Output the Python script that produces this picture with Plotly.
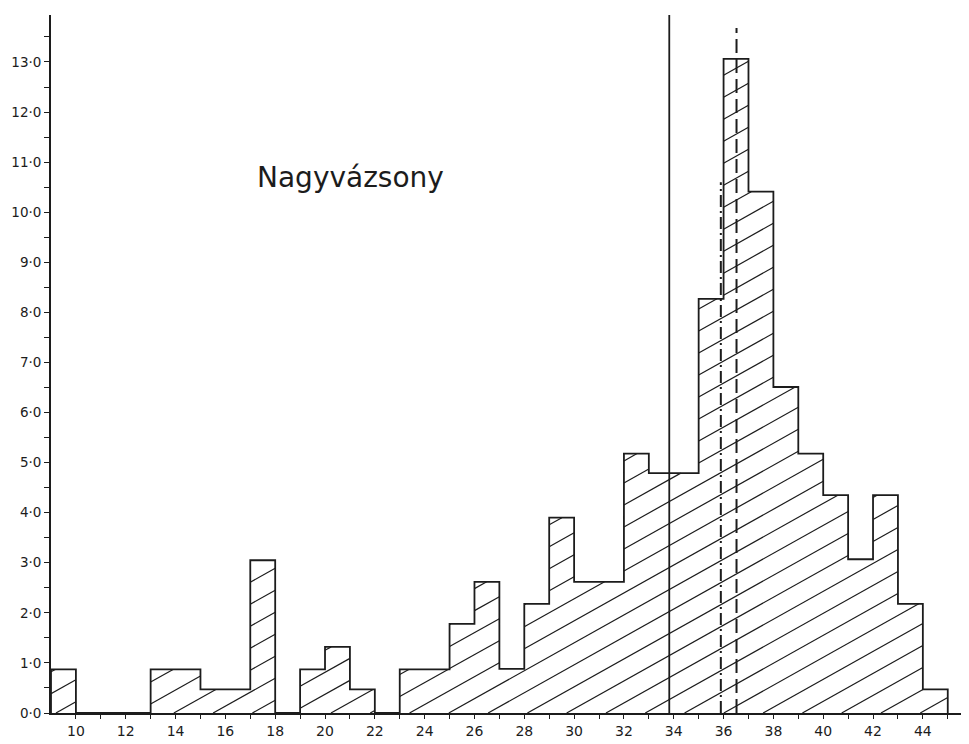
import plotly.graph_objects as go

# ---- data ----
bin_left = list(range(9, 45))            # bins of width 1: 9-10 ... 44-45
bin_width = 1
values = [0.87, 0, 0, 0, 0.87, 0.87, 0.47, 0.47, 3.05, 0,
          0.87, 1.32, 0.47, 0, 0.87, 0.87, 1.78, 2.62, 0.88, 2.18,
          3.90, 2.62, 2.62, 5.18, 4.79, 4.79, 8.27, 13.06, 10.41, 6.51,
          5.18, 4.35, 3.07, 4.35, 2.18, 0.47]
solid_line_x = 33.82
solid_line_top = 13.94
dashdot_line_x = 35.89
dashdot_line_top = 10.6
dashed_line_x = 36.52
dashed_line_top = 13.68
title_text = "Nagyvázsony"
x_tick_vals = list(range(10, 46))
x_tick_text = [str(v) if v % 2 == 0 else "" for v in x_tick_vals]
y_tick_vals = [i * 0.5 for i in range(0, 28)]
y_tick_text = [f"{int(v)}·0" if v == int(v) else "" for v in y_tick_vals]

# ---- layout geometry (page body adds an 8px offset) ----
W, H = 961, 736
ml, mr, mt, mb = 43, 0, 7, 31
x_range = [9, 9 + (W - ml - mr) / 24.91]
y_range = [0, (H - mt - mb) / 50.08]
px_per_x = (W - ml - mr) / (x_range[1] - x_range[0])
px_per_y = (H - mt - mb) / (y_range[1] - y_range[0])

ink = "#1c1c1c"

# ---- hatch lines (clipped to histogram) ----
pix_slope = 0.56
pix_spacing = 22.0
s = pix_slope * px_per_x / px_per_y
dv = pix_spacing / px_per_y
hx, hy = [], []
x_min, x_max = bin_left[0], bin_left[-1] + bin_width
hmax = max(values)
c = -s * x_max - dv * 0.3
while c < hmax - s * x_min:
    seg_start = None
    seg_end = None
    for xl, h in zip(bin_left, values):
        xr = xl + bin_width
        if h <= 0:
            lo, hi = None, None
        else:
            lo = max(xl, -c / s)
            hi = min(xr, (h - c) / s)
        if lo is not None and hi > lo:
            if seg_start is not None and abs(lo - seg_end) < 1e-9:
                seg_end = hi
            else:
                if seg_start is not None:
                    hx += [seg_start, seg_end, None]
                    hy += [s * seg_start + c, s * seg_end + c, None]
                seg_start, seg_end = lo, hi
        else:
            if seg_start is not None:
                hx += [seg_start, seg_end, None]
                hy += [s * seg_start + c, s * seg_end + c, None]
            seg_start = None
    if seg_start is not None:
        hx += [seg_start, seg_end, None]
        hy += [s * seg_start + c, s * seg_end + c, None]
    c += dv

fig = go.Figure()
fig.add_trace(go.Scatter(x=hx, y=hy, mode="lines",
                         line=dict(color=ink, width=1.2),
                         hoverinfo="skip", showlegend=False))

# ---- histogram outline ----
ox = [bin_left[0]] + bin_left + [bin_left[-1] + bin_width]
oy = [0] + values + [0]
fig.add_trace(go.Scatter(x=ox, y=oy, mode="lines", line_shape="hv",
                         line=dict(color=ink, width=1.8),
                         hoverinfo="skip", showlegend=False))

# ---- vertical reference lines ----
fig.add_trace(go.Scatter(x=[solid_line_x, solid_line_x], y=[0, solid_line_top],
                         mode="lines", line=dict(color=ink, width=1.8),
                         showlegend=False))
fig.add_trace(go.Scatter(x=[dashdot_line_x, dashdot_line_x], y=[0, dashdot_line_top],
                         mode="lines",
                         line=dict(color=ink, width=2, dash="12px,4px,2px,4px"),
                         showlegend=False))
fig.add_trace(go.Scatter(x=[dashed_line_x, dashed_line_x], y=[0, dashed_line_top],
                         mode="lines",
                         line=dict(color=ink, width=2, dash="14px,6px"),
                         showlegend=False))

fig.add_annotation(x=0.326, y=0.767, xref="paper", yref="paper",
                   xanchor="center", yanchor="middle",
                   text=title_text, showarrow=False,
                   font=dict(family="DejaVu Sans", size=28, color=ink))

fig.update_layout(
    width=W, height=H,
    margin=dict(l=ml, r=mr, t=mt, b=mb, autoexpand=False),
    paper_bgcolor="white", plot_bgcolor="white",
    font=dict(family="DejaVu Sans", color=ink),
    showlegend=False,
)
fig.update_xaxes(range=x_range, showgrid=False, zeroline=False, automargin=False,
                 showline=True, linecolor=ink, linewidth=1.8,
                 tickmode="array", tickvals=x_tick_vals, ticktext=x_tick_text,
                 ticks="outside", ticklen=4, tickwidth=1.3, tickcolor=ink,
                 tickfont=dict(size=14, color=ink))
fig.update_yaxes(range=y_range, showgrid=False, zeroline=False, automargin=False,
                 showline=True, linecolor=ink, linewidth=1.8,
                 tickmode="array", tickvals=y_tick_vals, ticktext=y_tick_text,
                 ticks="outside", ticklen=5, tickwidth=1.3, tickcolor=ink,
                 tickfont=dict(size=13.5, color=ink))

fig.write_html("out.html")
